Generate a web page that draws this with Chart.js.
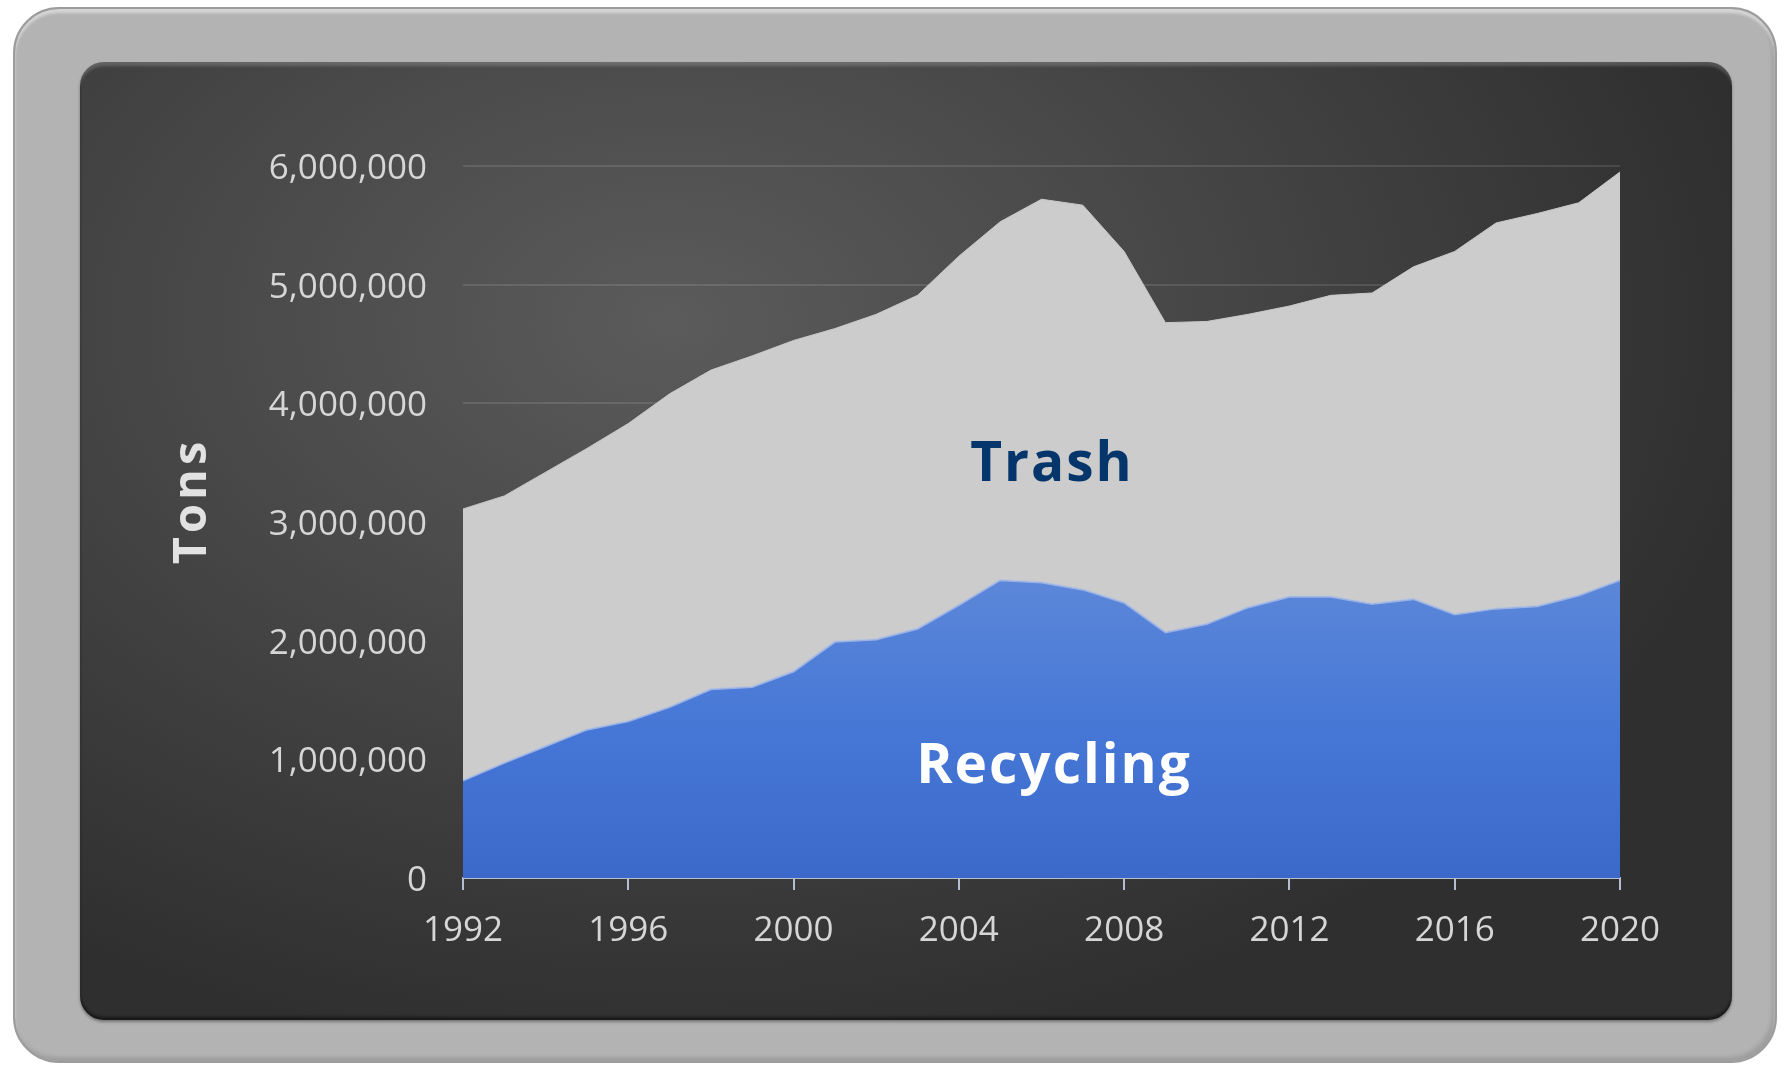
<!DOCTYPE html>
<html>
<head>
<meta charset="utf-8">
<script src="https://cdn.jsdelivr.net/npm/chart.js@4.4.1/dist/chart.umd.min.js"></script>
<style>
    html, body { margin: 0; padding: 0; background: #ffffff; width: 1785px; height: 1070px; overflow: hidden; }
    #frame {
        position: absolute; left: 13px; top: 7px; width: 1760px; height: 1052px;
        background: #b3b3b3; border: 2px solid #9c9c9c; border-radius: 46px;
        box-shadow: inset 0 4px 3px rgba(255,255,255,0.45), inset -3px -4px 4px rgba(0,0,0,0.12);
    }
    #panel {
        position: absolute; left: 80px; top: 62px; width: 1652px; height: 958px; border-radius: 24px;
        background: radial-gradient(ellipse 1100px 740px at 590px 260px, #5b5b5b 0%, #4a4a4a 40%, #2f2f2f 100%);
        box-shadow: inset 0 5px 3px -1px rgba(255,255,255,0.18), inset 0 -3px 3px rgba(0,0,0,0.5), 0 2px 3px rgba(0,0,0,0.35);
    }
    #chart { position: absolute; left: 0; top: 0; }
</style>
</head>
<body>
<div id="frame"></div>
<div id="panel"></div>
<canvas id="chart" width="1785" height="1070"></canvas>
<script>
// Years on the x axis
const years = [1992, 1993, 1994, 1995, 1996, 1997, 1998, 1999, 2000, 2001, 2002, 2003, 2004, 2005,
               2006, 2007, 2008, 2009, 2010, 2011, 2012, 2013, 2014, 2015, 2016, 2017, 2018, 2019, 2020];

// Recycling tons (bottom layer)
const recyclingTons = [820000, 970000, 1110000, 1250000, 1320000, 1440000, 1590000, 1610000, 1740000, 1990000,
                       2010000, 2100000, 2300000, 2510000, 2490000, 2430000, 2320000, 2070000, 2140000, 2280000,
                       2370000, 2370000, 2310000, 2350000, 2220000, 2270000, 2290000, 2380000, 2510000];

// Trash tons (stacked on top of recycling)
const trashTons = [2290000, 2250000, 2310000, 2370000, 2510000, 2640000, 2690000, 2790000, 2790000, 2640000,
                   2740000, 2810000, 2940000, 3020000, 3230000, 3240000, 2960000, 2610000, 2550000, 2470000,
                   2450000, 2540000, 2620000, 2800000, 3060000, 3250000, 3310000, 3310000, 3440000];

const yMax = 6000000;
const yStep = 1000000;
const xStep = 4;

const tickFont = { family: 'Open Sans', size: 35 };
const tickColor = '#d6d6d6';

// Text drawn inside / beside the plot
const labelPlugin = {
    id: 'areaLabels',
    afterDatasetsDraw(chart) {
        const ctx = chart.ctx;
        ctx.save();
        ctx.font = 'bold 55px "Open Sans"';
        ctx.letterSpacing = '2px';
        ctx.textAlign = 'center';
        ctx.textBaseline = 'alphabetic';
        ctx.fillStyle = '#04356b';
        ctx.fillText('Trash', 1052, 481);
        ctx.fillStyle = '#ffffff';
        ctx.fillText('Recycling', 1054, 783);

        // y axis title
        ctx.translate(206, 501);
        ctx.rotate(-Math.PI / 2);
        ctx.font = 'bold 47px "Open Sans"';
        ctx.letterSpacing = '4px';
        ctx.fillStyle = '#e2e2e2';
        ctx.fillText('Tons', 0, 0);
        ctx.restore();
    }
};

function recyclingFill(context) {
    const chart = context.chart;
    const area = chart.chartArea;
    if (!area || !chart.scales.y) return '#4a78d4';
    const top = chart.scales.y.getPixelForValue(2500000);
    const g = chart.ctx.createLinearGradient(0, top, 0, area.bottom);
    g.addColorStop(0, '#5c87d9');
    g.addColorStop(0.5, '#4677d6');
    g.addColorStop(1, '#3b69ca');
    return g;
}

const ctx = document.getElementById('chart');
new Chart(ctx, {
    type: 'line',
    data: {
        datasets: [
            {
                label: 'Recycling',
                data: years.map((yr, i) => ({ x: yr, y: recyclingTons[i] })),
                fill: 'origin',
                backgroundColor: recyclingFill,
                borderColor: 'rgba(170, 190, 235, 0.8)',
                borderWidth: 2,
                pointRadius: 0,
                tension: 0
            },
            {
                label: 'Trash',
                data: years.map((yr, i) => ({ x: yr, y: trashTons[i] })),
                fill: '-1',
                backgroundColor: '#cccccc',
                borderColor: '#c8c8c8',
                borderWidth: 1,
                pointRadius: 0,
                tension: 0
            }
        ]
    },
    options: {
        responsive: false,
        animation: false,
        devicePixelRatio: 1,
        layout: { padding: { left: 165, top: 166, right: 165, bottom: 0 } },
        plugins: {
            legend: { display: false },
            tooltip: { enabled: false }
        },
        scales: {
            x: {
                type: 'linear',
                min: years[0],
                max: years[years.length - 1],
                grid: { drawOnChartArea: false, drawTicks: true, tickLength: 12, tickColor: '#b5bdd0', lineWidth: 2 },
                border: { color: '#b5bdd0', width: 2 },
                ticks: {
                    stepSize: xStep,
                    color: tickColor,
                    font: tickFont,
                    padding: 20,
                    maxRotation: 0,
                    callback: v => String(v)
                },
                afterFit: s => { s.height = 192; }
            },
            y: {
                stacked: true,
                min: 0,
                max: yMax,
                grid: { color: 'rgba(255,255,255,0.11)', lineWidth: 2, drawTicks: false },
                border: { display: false },
                ticks: {
                    stepSize: yStep,
                    color: tickColor,
                    font: tickFont,
                    padding: 36,
                    labelOffset: 3,
                    callback: v => v.toLocaleString('en-US')
                },
                afterFit: s => { s.width = 298; }
            }
        }
    },
    plugins: [labelPlugin]
});
</script>
</body>
</html>
